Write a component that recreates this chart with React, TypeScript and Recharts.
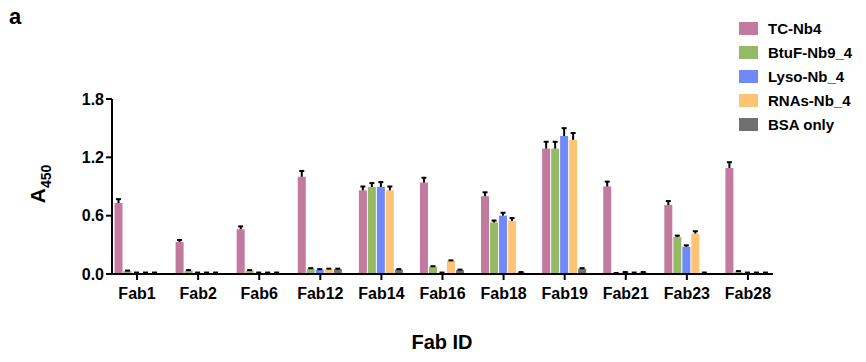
import React from "react";
import { BarChart, Bar, XAxis, YAxis } from "recharts";

const FABS = ["Fab1", "Fab2", "Fab6", "Fab12", "Fab14", "Fab16", "Fab18", "Fab19", "Fab21", "Fab23", "Fab28"];

const TC_NB4 = [0.73, 0.33, 0.46, 1.0, 0.86, 0.94, 0.8, 1.29, 0.9, 0.71, 1.09];
const TC_NB4_ERR = [0.04, 0.02, 0.03, 0.06, 0.04, 0.05, 0.04, 0.07, 0.05, 0.04, 0.06];
const BTUF = [0.03, 0.035, 0.035, 0.055, 0.895, 0.075, 0.53, 1.29, 0.005, 0.38, 0.025];
const BTUF_ERR = [0.005, 0.005, 0.005, 0.005, 0.04, 0.005, 0.02, 0.07, 0.005, 0.015, 0.005];
const LYSO = [0.01, 0.01, 0.01, 0.045, 0.895, 0.01, 0.6, 1.42, 0.015, 0.28, 0.01];
const LYSO_ERR = [0.005, 0.005, 0.005, 0.005, 0.05, 0.005, 0.03, 0.08, 0.005, 0.015, 0.005];
const RNAS = [0.01, 0.01, 0.01, 0.05, 0.86, 0.135, 0.545, 1.38, 0.01, 0.415, 0.01];
const RNAS_ERR = [0.005, 0.005, 0.005, 0.005, 0.04, 0.005, 0.03, 0.07, 0.005, 0.025, 0.005];
const BSA = [0.01, 0.01, 0.01, 0.05, 0.045, 0.04, 0.015, 0.055, 0.015, 0.01, 0.01];
const BSA_ERR = [0.005, 0.005, 0.005, 0.005, 0.005, 0.005, 0.005, 0.005, 0.005, 0.005, 0.005];

const Y_TICKS = [0, 0.6, 1.2, 1.8];

const SERIES = [
  { key: "tc", name: "TC-Nb4", color: "#C27A9E", values: TC_NB4, errs: TC_NB4_ERR },
  { key: "btuf", name: "BtuF-Nb9_4", color: "#94BA65", values: BTUF, errs: BTUF_ERR },
  { key: "lyso", name: "Lyso-Nb_4", color: "#7189F7", values: LYSO, errs: LYSO_ERR },
  { key: "rnas", name: "RNAs-Nb_4", color: "#FFC375", values: RNAS, errs: RNAS_ERR },
  { key: "bsa", name: "BSA only", color: "#707070", values: BSA, errs: BSA_ERR },
];

const data = FABS.map((fab, i) => {
  const row: Record<string, any> = { fab };
  SERIES.forEach((s) => {
    row[s.key] = s.values[i];
    row[s.key + "Err"] = s.errs[i];
  });
  return row;
});

const FONT = "'Liberation Sans', Arial, sans-serif";

// bar + upper-only error whisker (GraphPad style), scaled from the bar's own height
const BarWithErr = (key: string) => (props: any) => {
  const { x, y, width, height, fill, payload } = props;
  const v = payload[key];
  const err = payload[key + "Err"];
  const pxPerUnit = v > 0 ? height / v : 0;
  const cx = x + width / 2;
  const top = y - err * pxPerUnit;
  return (
    <g>
      <rect x={x} y={y} width={width} height={height} fill={fill} />
      <line x1={cx} x2={cx} y1={y} y2={top} stroke="#000" strokeWidth={2} />
      <line x1={cx - 2.5} x2={cx + 2.5} y1={top} y2={top} stroke="#000" strokeWidth={2} />
    </g>
  );
};

export default function App() {
  return (
    <div style={{ position: "relative", width: 866, height: 362, background: "#fff", fontFamily: FONT }}>
      <style>{"body{margin:0}"}</style>
      <div style={{ position: "absolute", left: 9, top: 4, fontSize: 22, fontWeight: "bold" }}>a</div>
      <div
        style={{
          position: "absolute",
          left: 40,
          top: 184,
          transform: "translate(-50%, -50%) rotate(-90deg)",
          fontSize: 21,
          fontWeight: "bold",
          whiteSpace: "nowrap",
        }}
      >
        A<sub style={{ fontSize: 14 }}>450</sub>
      </div>
      <div
        style={{
          position: "absolute",
          left: 442,
          top: 342,
          transform: "translate(-50%, -50%)",
          fontSize: 20,
          fontWeight: "bold",
        }}
      >
        Fab ID
      </div>
      <div
        style={{
          position: "absolute",
          left: 739,
          top: 16,
          fontSize: 15,
          fontWeight: "bold",
          zIndex: 2,
        }}
      >
        {SERIES.map((s) => (
          <div key={s.key} style={{ display: "flex", alignItems: "center", height: 24 }}>
            <span style={{ width: 19, height: 13, background: s.color, marginRight: 10, display: "inline-block" }} />
            <span>{s.name}</span>
          </div>
        ))}
      </div>
      <BarChart
        width={866}
        height={362}
        data={data}
        margin={{ top: 99, right: 93, bottom: 58, left: 62 }}
        barCategoryGap={8}
        barGap={1}
      >
        <XAxis
          dataKey="fab"
          height={30}
          padding={{ left: -5.5, right: -5.5 }}
          axisLine={{ stroke: "#000", strokeWidth: 2 }}
          tickLine={{ stroke: "#000", strokeWidth: 2 }}
          tickSize={6}
          tick={{ fill: "#000", fontSize: 16, fontWeight: "bold", fontFamily: FONT, dy: 6 }}
          interval={0}
        />
        <YAxis
          width={50}
          domain={[0, 1.8]}
          ticks={Y_TICKS}
          allowDataOverflow
          tickFormatter={(v: number) => v.toFixed(1)}
          axisLine={{ stroke: "#000", strokeWidth: 2 }}
          tickLine={{ stroke: "#000", strokeWidth: 2 }}
          tickSize={6}
          tick={{ fill: "#000", fontSize: 16, fontWeight: "bold", fontFamily: FONT }}
        />
        {SERIES.map((s) => (
          <Bar
            key={s.key}
            dataKey={s.key}
            name={s.name}
            fill={s.color}
            isAnimationActive={false}
            shape={BarWithErr(s.key)}
          />
        ))}
      </BarChart>
    </div>
  );
}
